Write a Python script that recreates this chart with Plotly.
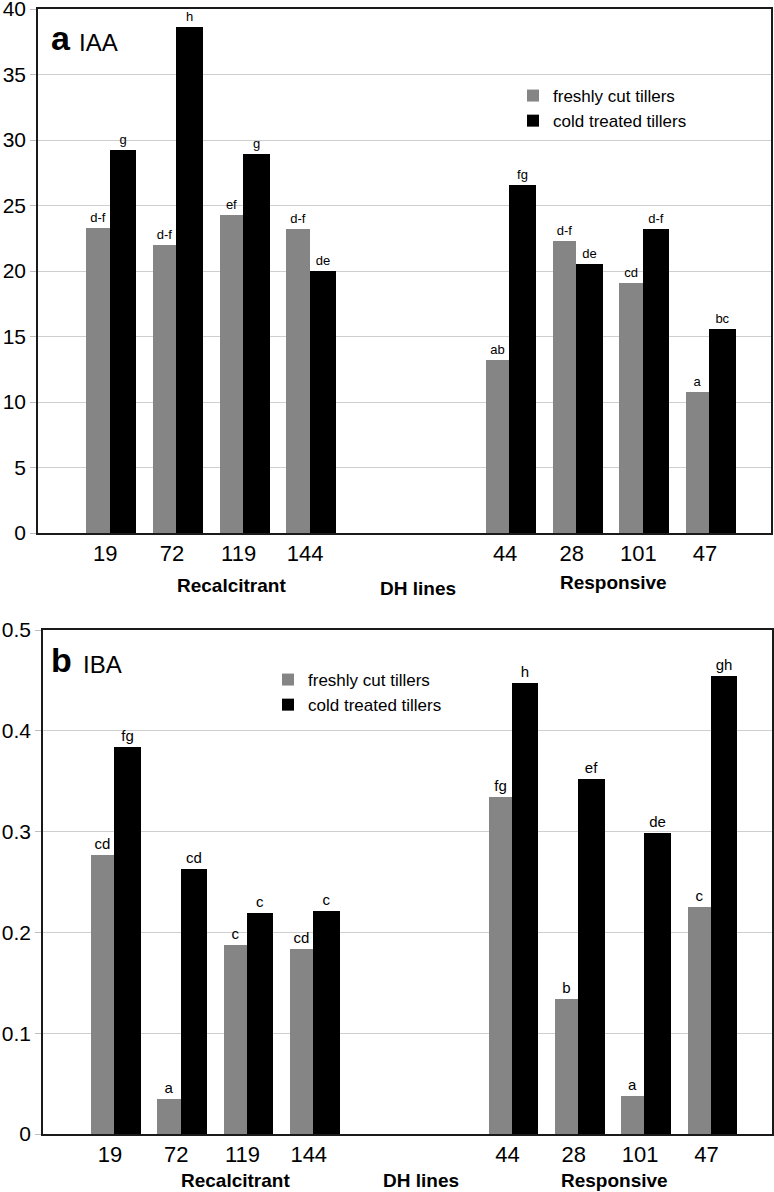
import plotly.graph_objects as go

# ---- data ----
lines = ["19", "72", "119", "144", "44", "28", "101", "47"]
slots = [0, 1, 2, 3, 6, 7, 8, 9]          # category slots (two empty slots between groups)
iaa_fresh = [23.3, 22.0, 24.3, 23.2, 13.2, 22.3, 19.1, 10.8]
iaa_cold = [29.2, 38.6, 28.9, 20.0, 26.6, 20.5, 23.2, 15.6]
iaa_fresh_lbl = ["d-f", "d-f", "ef", "d-f", "ab", "d-f", "cd", "a"]
iaa_cold_lbl = ["g", "h", "g", "de", "fg", "de", "d-f", "bc"]
iba_fresh = [0.277, 0.035, 0.1875, 0.1835, 0.334, 0.134, 0.038, 0.225]
iba_cold = [0.384, 0.263, 0.219, 0.221, 0.447, 0.352, 0.299, 0.454]
iba_fresh_lbl = ["cd", "a", "c", "cd", "fg", "b", "a", "c"]
iba_cold_lbl = ["fg", "cd", "c", "c", "h", "ef", "de", "gh"]
series_names = ["freshly cut tillers", "cold treated tillers"]
group_names = ["Recalcitrant", "DH lines", "Responsive"]
group_pos = [1.8, 4.6, 7.53]

FONT = "Arial, Liberation Sans, sans-serif"
GRAY = "#858585"
BLACK = "#000000"
W, H = 774, 1192

fig = go.Figure()

def add_pair(fresh, cold, fl, cl, xa, ya, leg, tsize):
    fig.add_trace(go.Bar(x=slots, y=fresh, name=series_names[0], marker_color=GRAY,
                         marker_line_width=0, width=0.35, offset=-0.375,
                         text=fl, textposition="outside", cliponaxis=False,
                         constraintext="none",
                         textfont=dict(size=tsize, color="black", family=FONT),
                         xaxis=xa, yaxis=ya, legend=leg))
    fig.add_trace(go.Bar(x=slots, y=cold, name=series_names[1], marker_color=BLACK,
                         marker_line_width=0, width=0.40, offset=-0.025,
                         text=cl, textposition="outside", cliponaxis=False,
                         constraintext="none",
                         textfont=dict(size=tsize, color="black", family=FONT),
                         xaxis=xa, yaxis=ya, legend=leg))

add_pair(iaa_fresh, iaa_cold, iaa_fresh_lbl, iaa_cold_lbl, "x", "y", "legend", 13)
add_pair(iba_fresh, iba_cold, iba_fresh_lbl, iba_cold_lbl, "x2", "y2", "legend2", 15)

def px_x(p):
    return p / W

def px_y(p):
    return 1 - p / H

tickvals = [s - 0.09 for s in slots]
xcommon = dict(range=[-1.1, 9.9], tickvals=tickvals, ticktext=lines, ticks="",
               showline=True, mirror=True, linecolor="#1a1a1a", linewidth=1.5,
               showgrid=False, zeroline=False, automargin=False,
               ticklabeloverflow="allow",
               tickfont=dict(size=22, family=FONT, color="black"))
ycommon = dict(showline=True, mirror=True, linecolor="#1a1a1a", linewidth=1.5,
               showgrid=True, gridcolor="#cfcfcf", gridwidth=1, zeroline=False,
               ticks="outside", ticklen=6, tickcolor="#bdbdbd", automargin=False,
               ticklabeloverflow="allow",
               tickfont=dict(size=21, family=FONT, color="black"))

fig.update_layout(
    width=W, height=H, margin=dict(l=0, r=0, t=0, b=0, autoexpand=False),
    paper_bgcolor="white", plot_bgcolor="white",
    barmode="overlay", font=dict(family=FONT, color="black"),
    xaxis=dict(domain=[px_x(38), px_x(771)], anchor="y", **xcommon),
    yaxis=dict(domain=[px_y(533), px_y(9)], anchor="x", range=[0, 40], dtick=5, **ycommon),
    xaxis2=dict(domain=[px_x(43), px_x(772)], anchor="y2", **xcommon),
    yaxis2=dict(domain=[px_y(1134), px_y(630)], anchor="x2", range=[0, 0.5], dtick=0.1, **ycommon),
    legend=dict(x=px_x(513), y=px_y(78), xanchor="left", yanchor="top",
                font=dict(size=17, family=FONT), bgcolor="rgba(0,0,0,0)",
                traceorder="normal"),
    legend2=dict(x=px_x(268), y=px_y(662), xanchor="left", yanchor="top",
                 font=dict(size=17, family=FONT), bgcolor="rgba(0,0,0,0)",
                 traceorder="normal"),
    bargap=0,
)

ann = []
# panel titles
ann.append(dict(text="<b>a</b>", x=px_x(49), y=px_y(38), xref="paper", yref="paper",
                xanchor="left", yanchor="middle", showarrow=False,
                font=dict(size=34, family=FONT, color="black")))
ann.append(dict(text="IAA", x=px_x(77), y=px_y(43), xref="paper", yref="paper",
                xanchor="left", yanchor="middle", showarrow=False,
                font=dict(size=24, family=FONT, color="black")))
ann.append(dict(text="<b>b</b>", x=px_x(49), y=px_y(660), xref="paper", yref="paper",
                xanchor="left", yanchor="middle", showarrow=False,
                font=dict(size=34, family=FONT, color="black")))
ann.append(dict(text="IBA", x=px_x(81), y=px_y(664), xref="paper", yref="paper",
                xanchor="left", yanchor="middle", showarrow=False,
                font=dict(size=24, family=FONT, color="black")))
# group labels
ya_pos = [585, 588, 582]
yb_pos = [1180, 1180, 1180]
for name, gx, ya_, yb_ in zip(group_names, group_pos, ya_pos, yb_pos):
    ann.append(dict(text="<b>%s</b>" % name, x=gx, xref="x", y=px_y(ya_), yref="paper",
                    xanchor="center", yanchor="middle", showarrow=False,
                    font=dict(size=19, family=FONT, color="black")))
    ann.append(dict(text="<b>%s</b>" % name, x=gx, xref="x2", y=px_y(yb_), yref="paper",
                    xanchor="center", yanchor="middle", showarrow=False,
                    font=dict(size=19, family=FONT, color="black")))
fig.update_layout(annotations=ann)

fig.write_html("out.html", config={"displayModeBar": False},
               post_script="document.body.style.margin='0';"
                           "document.body.style.overflow='hidden';")
